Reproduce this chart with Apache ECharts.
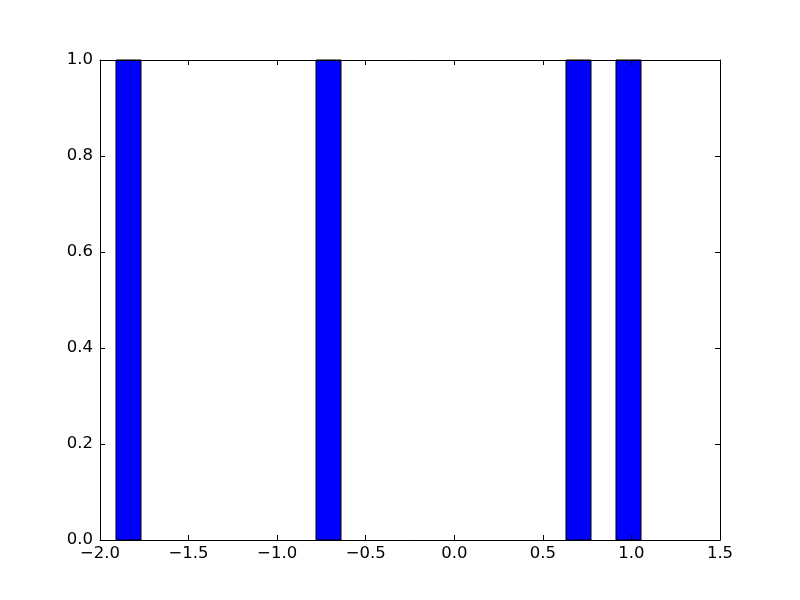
<!DOCTYPE html>
<html>
<head>
<meta charset="utf-8">
<script src="https://cdn.jsdelivr.net/npm/echarts@6/dist/echarts.min.js"></script>
<style>html,body{margin:0;padding:0;background:#fff}#c{width:800px;height:600px}</style>
</head>
<body>
<div id="c"></div>
<script>
// Histogram bins (left edge, right edge) and counts
const binLeft  = [-1.9097, -0.7806, 0.6306, 0.9129];
const binRight = [-1.7686, -0.6395, 0.7718, 1.0540];
const counts   = [1, 1, 1, 1];
const xTicks = [-2.0, -1.5, -1.0, -0.5, 0.0, 0.5, 1.0, 1.5];
const yTicks = [0.0, 0.2, 0.4, 0.6, 0.8, 1.0];

const fmt = v => v.toFixed(1).replace('-', '\u2212');
const font = {fontFamily: 'DejaVu Sans', fontSize: 16.5, color: '#000'};
const data = binLeft.map((l, i) => [l, binRight[i], counts[i]]);

const chart = echarts.init(document.getElementById('c'), null, {renderer: 'canvas'});
const baseX = {
  type: 'value', min: -2.0, max: 1.5, interval: 0.5, z: 5,
  axisLine: {show: true, onZero: false, lineStyle: {color: '#000', width: 1}},
  axisTick: {show: true, inside: true, length: 5, lineStyle: {color: '#000'}},
  splitLine: {show: false}
};
const baseY = {
  type: 'value', min: 0, max: 1.0, interval: 0.2, z: 5,
  axisLine: {show: true, onZero: false, lineStyle: {color: '#000', width: 1}},
  axisTick: {show: true, inside: true, length: 5, lineStyle: {color: '#000'}},
  splitLine: {show: false}
};
chart.setOption({
  animation: false,
  backgroundColor: '#fff',
  grid: {left: 100, right: 80, top: 60, bottom: 60, containLabel: false},
  xAxis: [
    Object.assign({}, baseX, {position: 'bottom',
      axisLabel: Object.assign({margin: 5, formatter: fmt}, font)}),
    Object.assign({}, baseX, {position: 'top', axisLabel: {show: false}})
  ],
  yAxis: [
    Object.assign({}, baseY, {position: 'left',
      axisLabel: Object.assign({margin: 7, formatter: fmt}, font)}),
    Object.assign({}, baseY, {position: 'right', axisLabel: {show: false}})
  ],
  series: [{
    type: 'custom',
    xAxisIndex: 0, yAxisIndex: 0,
    z: 2,
    data: data,
    renderItem: function (params, api) {
      const p0 = api.coord([api.value(0), api.value(2)]);
      const p1 = api.coord([api.value(1), 0]);
      return {
        type: 'rect',
        shape: {x: p0[0], y: p0[1], width: p1[0] - p0[0], height: p1[1] - p0[1]},
        style: {fill: '#0000ff', stroke: '#000', lineWidth: 1}
      };
    }
  }]
});
</script>
</body>
</html>
